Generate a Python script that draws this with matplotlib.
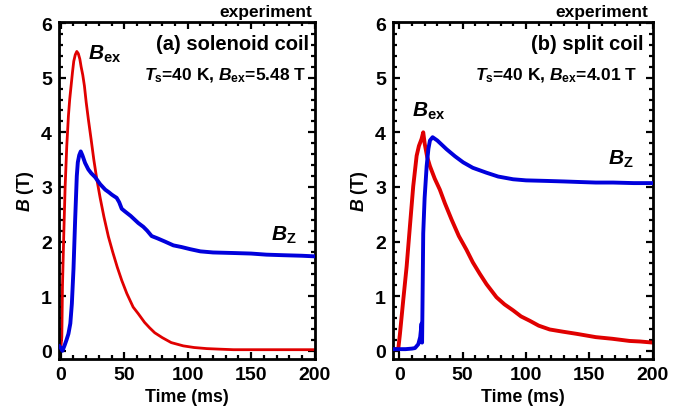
import matplotlib
matplotlib.use("Agg")
import matplotlib.pyplot as plt
from matplotlib.ticker import MultipleLocator

plt.rcParams['font.family'] = 'Liberation Sans'
plt.rcParams['font.weight'] = 'bold'
plt.rcParams['mathtext.fontset'] = 'custom'
plt.rcParams['mathtext.rm'] = 'Liberation Sans:bold'
plt.rcParams['mathtext.bf'] = 'Liberation Sans:bold'
plt.rcParams['mathtext.it'] = 'Liberation Sans:bold:italic'

RED = '#e00000'
BLUE = '#0000dc'

# (a) solenoid coil, Ts = 40 K
t_ex_a = [-1, 0, 0.8, 1.3, 2.3, 3.4, 4.7, 6.0, 7.0, 8.1, 9.2, 10.2, 11.4, 12.6,
          13.8, 15.0, 16.0, 17.3, 18.6, 20.0, 21.7, 24.0, 26.0, 28.3, 31.0,
          34.0, 37.5, 41.0, 44.5, 48.0, 52.0, 57.0, 61.0, 66.0, 70.0, 74.0,
          80.0, 87.0, 96.5, 105, 115, 125, 136, 150, 165, 180, 199]
B_ex_a = [0.0, 0.05, 0.25, 1.17, 2.1, 3.0, 3.75, 4.3, 4.6, 4.85, 5.1, 5.3,
          5.42, 5.48, 5.44, 5.34, 5.2, 5.05, 4.85, 4.55, 4.24, 3.85, 3.5, 3.15,
          2.8, 2.45, 2.09, 1.8, 1.53, 1.29, 1.05, 0.8, 0.68, 0.52, 0.42, 0.33,
          0.24, 0.15, 0.09, 0.06, 0.04, 0.03, 0.02, 0.02, 0.02, 0.02, 0.02]

t_z_a = [-1, 0, 1.3, 3.0, 4.5, 6.0, 7.5, 8.7, 10.0, 11.3, 12.6, 13.4, 14.5,
         15.7, 17.0, 19.1, 21.7, 24.0, 27.0, 31.0, 35.0, 38.0, 40.1, 42.0,
         44.0, 46.0, 48.0, 50.6, 55.0, 61.0, 65.0, 68.0, 71.6, 76.0, 82.0,
         88.7, 95.0, 102, 110, 120, 136, 150, 162, 175, 190, 199]
B_z_a = [0.08, 0.05, 0.0, 0.1, 0.2, 0.31, 0.5, 0.86, 1.5, 2.4, 3.2, 3.45,
         3.58, 3.65, 3.58, 3.44, 3.32, 3.25, 3.18, 3.05, 2.95, 2.9, 2.86,
         2.83, 2.8, 2.72, 2.6, 2.55, 2.47, 2.34, 2.27, 2.2, 2.1, 2.06, 2.0,
         1.93, 1.9, 1.86, 1.82, 1.8, 1.79, 1.78, 1.76, 1.75, 1.74, 1.73]

# (b) split coil, Ts = 40 K
t_ex_b = [-5, -2.6, -0.8, 0.5, 3.1, 5.8, 8.4, 11.0, 13.7, 15.5, 17.6, 18.9,
          20.0, 22.0, 24.2, 28.0, 32.0, 36.0, 41.3, 47.0, 53.0, 58.0, 63.5,
          68.8, 76.7, 83.0, 89.8, 96.0, 102.9, 110, 118.7, 129, 140, 155, 168,
          181.7, 190, 200]
B_ex_b = [0.03, 0.03, 0.03, 0.3, 0.92, 1.54, 2.28, 3.01, 3.57, 3.75, 3.88,
          4.0, 3.8, 3.55, 3.38, 3.15, 2.95, 2.7, 2.4, 2.1, 1.85, 1.62, 1.41,
          1.22, 0.98, 0.85, 0.74, 0.63, 0.55, 0.46, 0.39, 0.35, 0.31, 0.25,
          0.22, 0.18, 0.17, 0.15]

t_z_b = [-5, 0, 5, 10, 12.4, 15.0, 16.5, 17.6, 18.0, 18.3, 18.9, 20.0, 21.6,
         23.0, 24.2, 26.3, 30.0, 37.3, 44.0, 50.4, 58.0, 68.8, 78.0, 89.8,
         100, 116, 130, 142, 155, 168.6, 185, 200]
B_z_b = [0.03, 0.03, 0.03, 0.04, 0.05, 0.12, 0.25, 0.5, 0.15, 0.8, 2.15, 2.8,
         3.38, 3.7, 3.85, 3.91, 3.85, 3.69, 3.56, 3.45, 3.35, 3.26, 3.19, 3.14,
         3.12, 3.11, 3.1, 3.09, 3.08, 3.08, 3.07, 3.07]

panels = [
    dict(rect=[0.085, 0.122, 0.369, 0.822], xmin=-1.5,
         t_ex=t_ex_a, b_ex=B_ex_a, t_z=t_z_a, b_z=B_z_a, lw_ex=2.0, lw_z=2.8,
         title='(a) solenoid coil', bex_val='5.48',
         title_x=0.977, par_x=0.967, exp_x=0.99,
         lab_ex=(21.5, 5.35), lab_z=(166, 2.04)),
    dict(rect=[0.567, 0.122, 0.375, 0.822], xmin=-5,
         t_ex=t_ex_b, b_ex=B_ex_b, t_z=t_z_b, b_z=B_z_b, lw_ex=2.8, lw_z=2.8,
         title='(b) split coil', bex_val='4.01',
         title_x=0.963, par_x=0.94, exp_x=0.982,
         lab_ex=(9.8, 4.3), lab_z=(164.6, 3.43)),
]

fig = plt.figure(figsize=(6.93, 4.10), dpi=100)

for p in panels:
    ax = fig.add_axes(p['rect'])
    ax.plot(p['t_ex'], p['b_ex'], color=RED, lw=p['lw_ex'], zorder=2)
    ax.plot(p['t_z'], p['b_z'], color=BLUE, lw=p['lw_z'], zorder=3)

    ax.set_xlim(p['xmin'], 200)
    ax.set_ylim(-0.15, 6.02)
    ax.xaxis.set_major_locator(MultipleLocator(50))
    ax.xaxis.set_minor_locator(MultipleLocator(10))
    ax.yaxis.set_major_locator(MultipleLocator(1))
    ax.yaxis.set_minor_locator(MultipleLocator(0.2))
    ax.tick_params(which='both', direction='in', top=True, right=True,
                   width=1.6, labelsize=14, pad=5)
    ax.tick_params(which='major', length=5)
    ax.tick_params(which='minor', length=3)
    for s in ax.spines.values():
        s.set_linewidth(2.0)

    ax.set_xlabel('Time (ms)', fontsize=12.8, fontweight='bold', labelpad=4)
    ax.set_ylabel(r'$B$ (T)', fontsize=12.8, fontweight='bold', labelpad=4)

    ax.text(p['exp_x'], 1.017, 'experiment', transform=ax.transAxes,
            ha='right', va='baseline', fontsize=12.5, fontweight='bold')
    ax.text(p['title_x'], 0.92, p['title'], transform=ax.transAxes,
            ha='right', va='baseline', fontsize=14.5, fontweight='bold')
    ax.text(p['par_x'], 0.831,
            r'$T_{\rm s}$=40 K, $B_{\rm ex}$=' + p['bex_val'] + ' T',
            transform=ax.transAxes, ha='right', va='baseline',
            fontsize=12.5, fontweight='bold')
    ax.text(*p['lab_ex'], r'$B_{\rm ex}$', ha='left', va='baseline',
            fontsize=15)
    ax.text(*p['lab_z'], r'$B_{\rm Z}$', ha='left', va='baseline',
            fontsize=15)

fig.savefig('out.png', dpi=100)
